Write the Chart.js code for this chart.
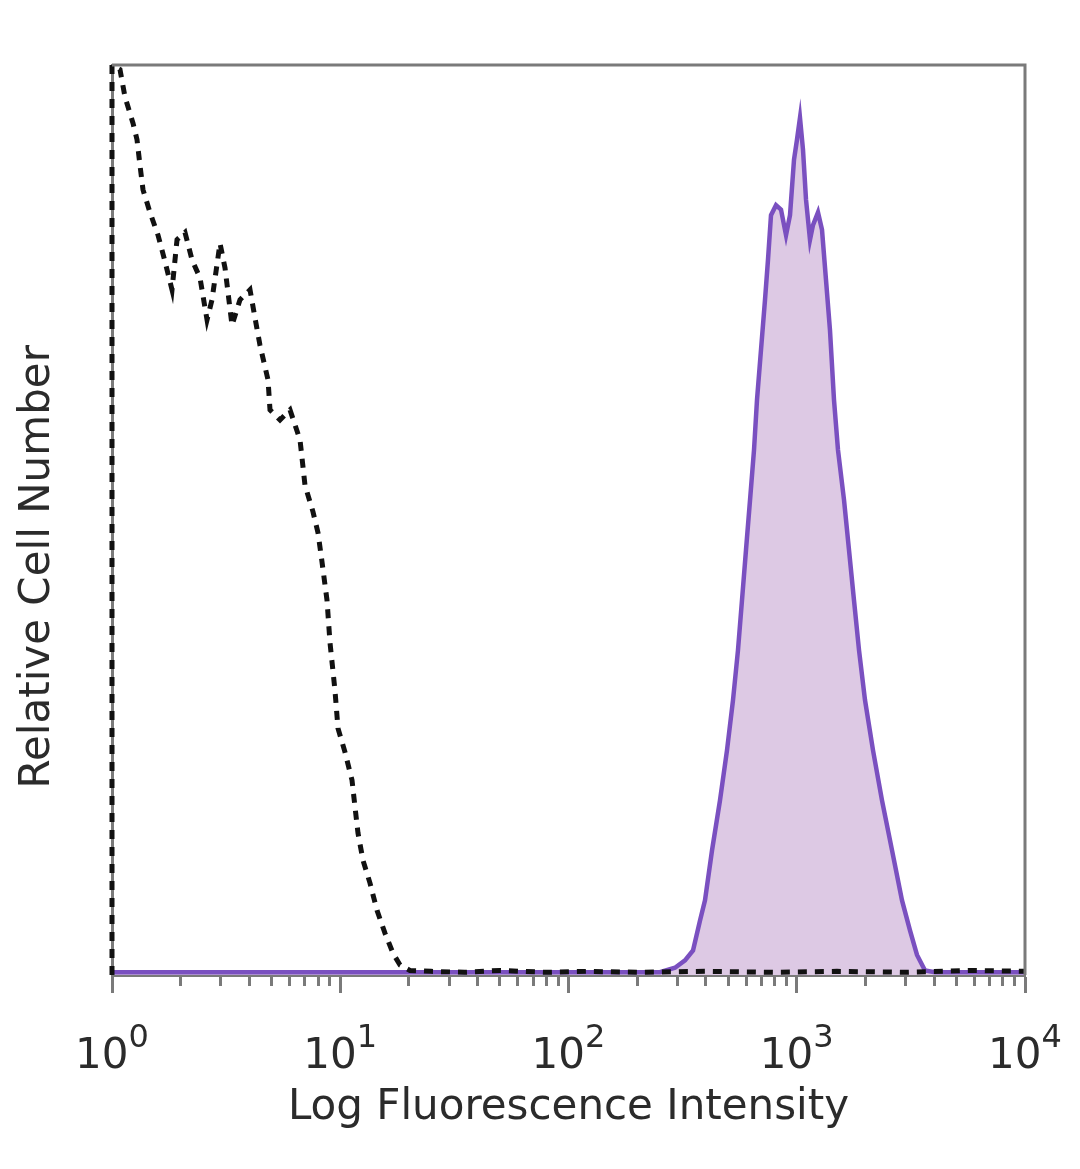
<!DOCTYPE html>
<html>
<head>
<meta charset="utf-8">
<script src="https://cdn.jsdelivr.net/npm/chart.js@4/dist/chart.umd.min.js"></script>
<style>
	html, body { margin: 0; padding: 0; background: #fff; }
	#wrap { width: 1080px; height: 1169px; }
</style>
</head>
<body>
<div id="wrap"><canvas id="histo"></canvas></div>
<script>
// decade ticks on the log axis, label = base + exponent
var decades = [1, 10, 100, 1000, 10000];
var decadeExps = ["0", "1", "2", "3", "4"];

// isotype control (dashed black)
var isoX = [1, 1, 1.084, 1.14, 1.236, 1.287, 1.326, 1.367, 1.467, 1.591,
	1.707, 1.832, 1.927, 2.088, 2.241, 2.43, 2.608, 2.742, 2.973, 3.127,
	3.356, 3.637, 4.024, 4.232, 4.45, 4.826, 4.923, 5.446, 6.024, 6.664,
	7.009, 7.596, 7.989, 8.318, 8.748, 9.02, 9.48, 9.775, 10.49, 11.26,
	11.6, 11.96, 12.58, 13.5, 14.49, 15.7, 17.02, 18.27, 20.2, 25,
	35, 50, 80, 120, 200, 400, 800, 1500, 3000, 6000, 10000];
var isoY = [0, 100, 99.5, 96.5, 93.6, 91.8, 89.0, 86.3, 83.8, 81.3,
	78.4, 75.3, 80.8, 81.6, 78.6, 76.6, 72.0, 74.2, 80.4, 77.7,
	71.4, 74.2, 75.3, 72.2, 69.2, 65.4, 62.1, 61.0, 62.1, 58.8,
	53.8, 50.9, 48.6, 45.4, 41.2, 36.5, 31.3, 27.1, 24.5, 21.4,
	18.5, 15.6, 12.6, 10.1, 7.1, 4.6, 2.4, 1.1, 0.5, 0.4,
	0.3, 0.5, 0.3, 0.4, 0.3, 0.4, 0.3, 0.4, 0.3, 0.5, 0.4];

// stained sample (filled purple)
var stainX = [1, 100, 251.6, 292.8, 323.9, 351.2, 376.9, 396.3, 425.4, 461,
	494.8, 525.6, 552.8, 575.6, 599.3, 624.2, 649.8, 669.7, 697.2, 726,
	748.2, 771.3, 811.2, 853.2, 897.4, 934.2, 972.7, 1002.5, 1033.2, 1065,
	1098, 1143, 1178, 1239, 1290, 1343, 1398, 1456, 1516, 1611,
	1694, 1781, 1874, 1991, 2158, 2363, 2615, 2892, 3134, 3364,
	3647, 4034, 10000];
var stainY = [0.3, 0.3, 0.3, 0.8, 1.6, 2.7, 6.0, 8.2, 13.7, 19.2,
	24.7, 30.2, 35.7, 41.2, 46.7, 52.2, 57.7, 63.2, 68.7, 74.2,
	78.6, 83.5, 84.6, 84.1, 81.3, 83.5, 89.6, 91.8, 94.2, 90.7,
	85.2, 80.8, 82.4, 83.8, 81.9, 76.4, 70.9, 63.2, 57.7, 52.2,
	46.7, 41.2, 35.7, 30.2, 24.7, 19.2, 13.7, 8.2, 4.9, 2.2,
	0.5, 0.3, 0.3];

var frameColor = "#7a7a7a";
var textColor = "#2b2b2b";
var fontFamily = "DejaVu Sans";

function toPoints(xs, ys){
	return xs.map(function(x, i){ return {x: x, y: ys[i]}; });
}

function isDecade(v){
	var l = Math.log10(v);
	return Math.abs(l - Math.round(l)) < 1e-9;
}

// top + right edges of the frame
var framePlugin = {
	id: "frame",
	afterDraw: function(chart){
		var a = chart.chartArea, ctx = chart.ctx;
		ctx.save();
		ctx.strokeStyle = frameColor;
		ctx.lineWidth = 3;
		ctx.beginPath();
		ctx.moveTo(a.left, a.top);
		ctx.lineTo(a.right, a.top);
		ctx.lineTo(a.right, a.bottom);
		ctx.stroke();
		ctx.restore();
	}
};

// "10" with a raised exponent under each decade tick
var decadeLabelPlugin = {
	id: "decadeLabels",
	afterDraw: function(chart){
		var scale = chart.scales.x, ctx = chart.ctx;
		var base = chart.chartArea.bottom + 93;
		ctx.save();
		ctx.fillStyle = textColor;
		ctx.textBaseline = "alphabetic";
		decades.forEach(function(d, i){
			var px = scale.getPixelForValue(d);
			ctx.font = "42px '" + fontFamily + "'";
			var w1 = ctx.measureText("10").width;
			ctx.font = "32px '" + fontFamily + "'";
			var w2 = ctx.measureText(decadeExps[i]).width;
			var left = px - (w1 + w2) / 2;
			ctx.font = "42px '" + fontFamily + "'";
			ctx.textAlign = "left";
			ctx.fillText("10", left, base);
			ctx.font = "32px '" + fontFamily + "'";
			ctx.fillText(decadeExps[i], left + w1, base - 21);
		});
		ctx.restore();
	}
};

var ctx = document.getElementById("histo");
var chart = new Chart(ctx, {
	type: "line",
	data: {
		datasets: [{
			label: "Isotype",
			data: toPoints(isoX, isoY),
			borderColor: "#111111",
			borderWidth: 5,
			borderDash: [9, 8],
			pointRadius: 0,
			fill: false,
			tension: 0,
			clip: 4
		}, {
			label: "Stained",
			data: toPoints(stainX, stainY),
			borderColor: "#7a50c0",
			backgroundColor: "#ddc9e4",
			borderWidth: 4.5,
			pointRadius: 0,
			fill: "origin",
			tension: 0
		}]
	},
	options: {
		responsive: true,
		maintainAspectRatio: false,
		animation: false,
		layout: { padding: { left: 0, right: 55, top: 65, bottom: 36 } },
		plugins: {
			legend: { display: false },
			tooltip: { enabled: false }
		},
		scales: {
			x: {
				type: "logarithmic",
				min: 1,
				max: 10000,
				afterBuildTicks: function(scale){
					var ticks = [];
					decades.forEach(function(d, i){
						if(i == decades.length - 1){
							ticks.push({value: d, major: true});
							return;
						}
						for(var m = 1; m < 10; m++) ticks.push({value: d * m, major: m == 1});
					});
					scale.ticks = ticks;
				},
				afterFit: function(scale){
					scale.height = 158;
					scale.paddingLeft = 0;
					scale.paddingRight = 0;
				},
				grid: {
					drawOnChartArea: false,
					drawTicks: true,
					tickLength: 18,
					tickColor: frameColor,
					tickWidth: 3,
					tickBorderDash: function(c){
						return (c.tick && isDecade(c.tick.value)) ? [] : [9, 40];
					}
				},
				border: { display: true, color: frameColor, width: 3 },
				ticks: { display: false, autoSkip: false },
				title: {
					display: true,
					text: "Log Fluorescence Intensity",
					color: textColor,
					font: { family: fontFamily, size: 42 },
					padding: 0
				}
			},
			y: {
				type: "linear",
				min: 0,
				max: 100,
				afterFit: function(scale){ scale.width = 112; },
				grid: { drawOnChartArea: false, drawTicks: false },
				border: { display: true, color: frameColor, width: 3 },
				ticks: { display: false },
				title: {
					display: true,
					text: "Relative Cell Number       ",
					color: textColor,
					font: { family: fontFamily, size: 42 },
					padding: { top: 13, bottom: 0 }
				}
			}
		}
	},
	plugins: [framePlugin, decadeLabelPlugin]
});
</script>
</body>
</html>
